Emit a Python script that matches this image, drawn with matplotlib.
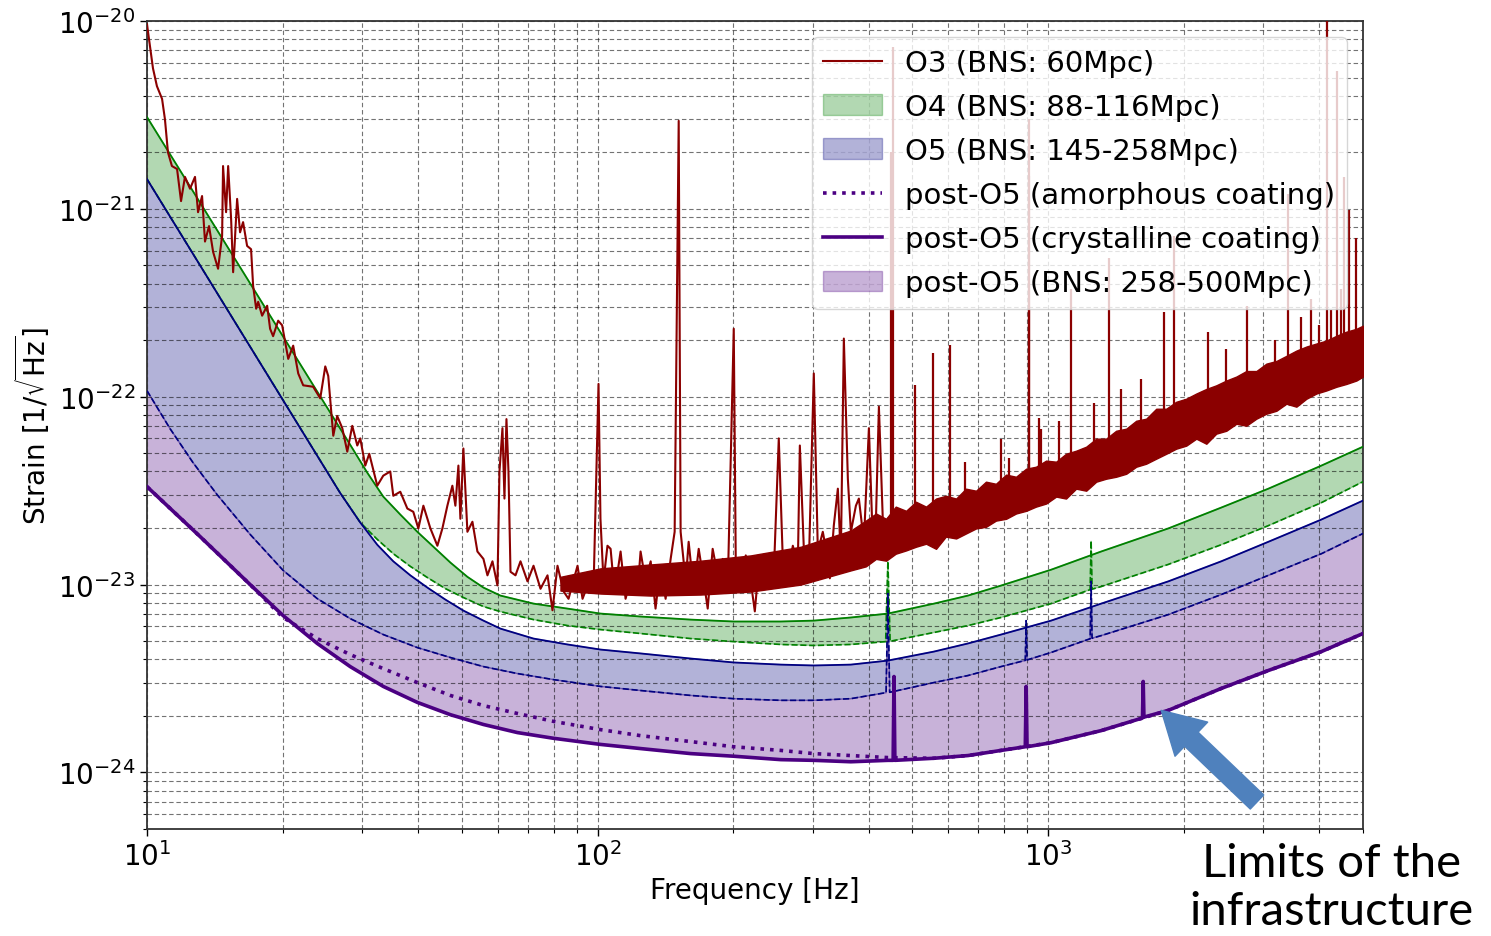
import numpy as np
import matplotlib
matplotlib.use("Agg")
import matplotlib.pyplot as plt
from matplotlib.patches import FancyArrowPatch

# ---------------- data ----------------
# O3 measured curve: noisy trace up to ~440 Hz
o3_freq = [10.00, 10.31, 10.52, 10.80, 10.96, 11.13, 11.36, 11.66, 11.90, 12.14,
           12.46, 12.78, 12.98, 13.25, 13.45, 13.73, 14.02, 14.38, 14.68, 14.75,
           14.98, 15.14, 15.37, 15.53, 15.85, 16.09, 16.34, 16.68, 17.02, 17.20,
           17.47, 17.65, 18.01, 18.48, 18.76, 19.05, 19.55, 19.95, 20.58, 21.11,
           21.66, 22.22, 23.38, 24.24, 24.87, 25.25, 25.91, 26.43, 27.13, 27.83,
           28.55, 29.29, 29.74, 30.51, 31.14, 32.44, 33.45, 34.67, 35.21, 36.49,
           37.83, 39.00, 40.02, 41.06, 42.56, 44.11, 45.25, 46.42, 47.62, 48.36,
           49.11, 49.61, 50.38, 51.42, 52.76, 54.12, 55.81, 56.97, 58.45, 59.95,
           60.58, 61.51, 62.14, 62.78, 63.43, 64.09, 65.75, 67.45, 69.91, 72.09,
           74.72, 77.44, 79.43, 81.49, 84.05, 86.22, 90.28, 92.62, 95.01, 97.97,
           100.5, 101.5, 103.1, 105.2, 106.9, 108.5, 110.8, 112.5, 115.4, 119.6,
           122.7, 124.6, 127.8, 131.2, 134.5, 138.0, 141.6, 145.3, 148.3, 151.4,
           152.9, 156.9, 159.3, 163.5, 167.7, 172.1, 175.6, 180.1, 184.8, 189.6,
           194.5, 200.6, 202.7, 207.9, 213.3, 218.8, 223.4, 228.0, 233.9, 239.9,
           246.1, 252.5, 257.7, 264.4, 271.3, 278.3, 281.2, 287.0, 294.4, 302.0,
           308.3, 316.2, 324.4, 327.8, 334.5, 341.5, 346.7, 352.1, 359.4, 365.0,
           374.5, 380.2, 390.1, 400.2, 406.4, 412.7, 421.2, 432.1, 441.0]
o3_strain = [9.6e-21, 5.6e-21, 4.5e-21, 3.85e-21, 3.0e-21, 2.0e-21, 1.69e-21, 1.63e-21, 1.10e-21, 1.48e-21,
             1.28e-21, 1.48e-21, 9.6e-22, 1.17e-21, 6.7e-22, 8.1e-22, 5.9e-22, 4.8e-22, 7.2e-22, 1.69e-21,
             9.6e-22, 1.69e-21, 8.85e-22, 4.6e-22, 1.13e-21, 7.5e-22, 8.5e-22, 6.35e-22, 6.1e-22, 3.9e-22,
             2.94e-22, 3.2e-22, 2.7e-22, 3.05e-22, 2.3e-22, 2.1e-22, 2.54e-22, 2.4e-22, 1.59e-22, 1.87e-22,
             1.33e-22, 1.15e-22, 1.13e-22, 9.8e-23, 1.45e-22, 1.29e-22, 6.2e-23, 7.9e-23, 6.8e-23, 5.1e-23,
             7.0e-23, 5.5e-23, 6.0e-23, 4.3e-23, 4.97e-23, 3.36e-23, 3.8e-23, 4.0e-23, 2.97e-23, 3.12e-23,
             2.54e-23, 2.44e-23, 1.99e-23, 2.63e-23, 1.99e-23, 1.61e-23, 1.99e-23, 2.63e-23, 3.36e-23, 2.63e-23,
             4.3e-23, 2.24e-23, 5.3e-23, 1.91e-23, 2.16e-23, 1.50e-23, 1.37e-23, 1.12e-23, 1.33e-23, 9.9e-24,
             4.0e-23, 6.8e-23, 2.87e-23, 7.6e-23, 4.0e-23, 1.17e-23, 1.12e-23, 1.33e-23, 1.04e-23, 1.26e-23,
             9.5e-24, 1.12e-23, 7.3e-24, 1.26e-23, 9.2e-24, 8.4e-24, 1.26e-23, 8.4e-24, 9.9e-24, 9.5e-24,
             1.17e-22, 2.24e-23, 1.04e-23, 1.61e-23, 1.55e-23, 1.04e-23, 1.17e-23, 1.50e-23, 8.4e-24, 1.17e-23,
             9.2e-24, 1.50e-23, 1.04e-23, 1.33e-23, 7.45e-24, 1.26e-23, 8.4e-24, 1.37e-23, 1.91e-23, 2.94e-21,
             1.91e-23, 1.04e-23, 1.69e-23, 9.2e-24, 1.55e-23, 1.04e-23, 7.45e-24, 1.55e-23, 1.12e-23, 1.37e-23,
             9.5e-24, 2.30e-22, 1.26e-23, 9.2e-24, 1.43e-23, 1.04e-23, 7.2e-24, 1.26e-23, 9.9e-24, 1.37e-23,
             1.12e-23, 6.0e-23, 1.37e-23, 1.12e-23, 1.61e-23, 1.26e-23, 5.5e-23, 1.55e-23, 1.26e-23, 1.33e-22,
             1.50e-23, 1.91e-23, 1.37e-23, 1.08e-23, 2.06e-23, 3.24e-23, 1.37e-23, 2.04e-22, 3.66e-23, 1.91e-23,
             2.63e-23, 2.87e-23, 1.69e-23, 6.8e-23, 2.33e-23, 1.37e-23, 8.85e-23, 1.50e-23, 2.24e-23]

# O3 dense noise core from ~80 Hz upward (upper / lower edge)
o3_band_freq = [82.75, 101.5, 131.2, 169.4, 218.8, 282.5, 364.9,
                394, 415, 437, 459, 484, 509, 536, 564, 593, 625,
                657, 692, 728, 766, 807, 849, 894, 940, 990, 1042,
                1096, 1154, 1215, 1279, 1345, 1416, 1491, 1569, 1651, 1738,
                1829, 1925, 2026, 2133, 2245, 2362, 2487, 2617, 2754, 2899,
                3051, 3212, 3380, 3557, 3745, 3941, 4148, 4365, 4595, 4836, 5000]
o3_band_top = [1.10e-23, 1.22e-23, 1.28e-23, 1.34e-23, 1.43e-23, 1.59e-23, 1.94e-23,
               2.19e-23, 2.39e-23, 2.24e-23, 2.60e-23, 2.47e-23, 2.76e-23, 2.60e-23, 2.87e-23, 2.97e-23, 2.87e-23,
               3.24e-23, 3.16e-23, 3.53e-23, 3.44e-23, 3.85e-23, 3.75e-23, 4.14e-23, 4.24e-23, 4.57e-23, 4.51e-23,
               4.97e-23, 5.16e-23, 5.42e-23, 5.98e-23, 5.98e-23, 6.59e-23, 6.76e-23, 7.45e-23, 7.64e-23, 8.63e-23,
               8.63e-23, 9.40e-23, 9.76e-23, 1.04e-22, 1.10e-22, 1.15e-22, 1.22e-22, 1.28e-22, 1.37e-22, 1.37e-22,
               1.50e-22, 1.55e-22, 1.65e-22, 1.76e-22, 1.85e-22, 1.92e-22, 1.99e-22, 2.11e-22, 2.22e-22, 2.30e-22,
               2.39e-22]
o3_band_bottom = [9.29e-24, 8.96e-24, 8.74e-24, 8.85e-24, 9.18e-24, 1.00e-23, 1.19e-23,
                  1.25e-23, 1.37e-23, 1.34e-23, 1.46e-23, 1.52e-23, 1.59e-23, 1.65e-23, 1.55e-23, 1.80e-23, 1.76e-23,
                  1.87e-23, 1.99e-23, 2.03e-23, 2.19e-23, 2.24e-23, 2.39e-23, 2.47e-23, 2.60e-23, 2.70e-23, 2.94e-23,
                  2.87e-23, 3.24e-23, 3.16e-23, 3.53e-23, 3.66e-23, 3.75e-23, 3.89e-23, 4.24e-23, 4.40e-23, 4.68e-23,
                  4.97e-23, 5.29e-23, 5.49e-23, 5.98e-23, 5.62e-23, 6.36e-23, 6.59e-23, 7.18e-23, 7.01e-23, 7.64e-23,
                  8.12e-23, 8.42e-23, 9.18e-23, 8.85e-23, 9.76e-23, 1.04e-22, 1.08e-22, 1.13e-22, 1.17e-22, 1.22e-22,
                  1.28e-22]

# O3 narrow lines above ~440 Hz (frequency, peak strain)
o3_line_freq = [448, 452, 506, 555, 606, 654, 786, 819, 905, 908, 955, 965, 1058, 1125, 1266, 1366, 1453,
                1609, 1810, 1905, 2268, 2487, 2768, 3195, 3415, 3651, 3841, 4002, 4169, 4256, 4387, 4479,
                4548, 4666, 4836]
o3_line_top = [2.0e-21, 7.3e-21, 1.15e-22, 1.71e-22, 1.89e-22, 4.5e-23, 5.98e-23, 4.7e-23, 1.5e-21, 3.0e-21,
               7.7e-23, 6.76e-23, 7.45e-23, 3.75e-22, 9.3e-23, 5.5e-22, 1.10e-22,
               1.25e-22, 2.83e-22, 7.2e-22, 2.22e-22, 1.80e-22, 3.05e-22, 2.01e-22, 1.20e-21, 2.65e-22, 3.3e-22,
               2.42e-22, 1.2e-20, 2.9e-22, 5.4e-21, 3.75e-22,
               1.48e-21, 9.9e-22, 7.0e-22]

# O4 (upper = solid, lower = dashed)
o4_upper_freq = [10, 25.76, 28.25, 30.83, 33.45, 36.49, 39.81, 43.22, 47.14, 51.41,
                 55.81, 60.86, 72.09, 85.77, 101.5, 124.6, 160.9, 200.6, 255.1, 302,
                 364.9, 441, 558.2, 664.1, 786.3, 1015.5, 1311.8, 1848, 2423, 3083,
                 4043, 5000]
o4_upper_strain = [3.08e-21, 7.93e-23, 5.55e-23, 3.94e-23, 2.94e-23, 2.36e-23, 1.91e-23, 1.59e-23, 1.31e-23, 1.10e-23,
                   9.64e-24, 8.74e-24, 7.92e-24, 7.45e-24, 7.01e-24, 6.76e-24, 6.51e-24, 6.36e-24, 6.36e-24, 6.43e-24,
                   6.68e-24, 7.01e-24, 7.92e-24, 8.74e-24, 9.88e-24, 1.20e-23, 1.50e-23, 1.99e-23, 2.57e-23, 3.24e-23,
                   4.30e-23, 5.42e-23]
o4_lower_freq = [10, 26.8, 29.74, 32.44, 35.21, 38.41, 41.91, 45.95, 50.38, 55.81,
                 60.86, 72.09, 85.77, 101.5, 124.6, 160.9, 200.6, 255.1, 302, 364.9,
                 436, 441, 446, 558.2, 664.1, 786.3, 1015.5, 1240, 1246, 1252,
                 1311.8, 1848, 2423, 3083, 4043, 5000]
o4_lower_strain = [1.44e-21, 3.09e-23, 2.14e-23, 1.74e-23, 1.46e-23, 1.25e-23, 1.09e-23, 9.52e-24, 8.53e-24, 7.64e-24,
                   7.18e-24, 6.51e-24, 6.05e-24, 5.76e-24, 5.49e-24, 5.16e-24, 4.97e-24, 4.80e-24, 4.74e-24, 4.80e-24,
                   4.97e-24, 1.33e-23, 4.99e-24, 5.56e-24, 6.05e-24, 6.68e-24, 7.92e-24, 9.4e-24, 1.71e-23, 9.45e-24,
                   9.76e-24, 1.28e-23, 1.63e-23, 2.06e-23, 2.73e-23, 3.53e-23]

# O5 (upper = solid, lower = dashed)
o5_upper_freq = [10, 26.8, 29.74, 32.44, 35.21, 38.41, 41.91, 45.95, 50.38, 55.81,
                 60.86, 72.09, 85.77, 101.5, 124.6, 160.9, 200.6, 255.1, 302, 364.9,
                 441, 558.2, 664.1, 786.3, 1015.5, 1311.8, 1848, 2423, 3083, 4043,
                 5000]
o5_upper_strain = [1.44e-21, 3.09e-23, 2.14e-23, 1.63e-23, 1.33e-23, 1.12e-23, 9.64e-24, 8.32e-24, 7.27e-24, 6.43e-24,
                   5.83e-24, 5.16e-24, 4.80e-24, 4.51e-24, 4.30e-24, 4.04e-24, 3.85e-24, 3.75e-24, 3.71e-24, 3.75e-24,
                   3.94e-24, 4.40e-24, 4.86e-24, 5.42e-24, 6.43e-24, 7.92e-24, 1.04e-23, 1.33e-23, 1.69e-23, 2.22e-23,
                   2.80e-23]
o5_lower_freq = [10, 11.25, 12.65, 14.31, 16.94, 20.05, 23.87, 28.25, 33.45, 39.81,
                 47.14, 55.81, 66.41, 79.85, 101.5, 124.6, 160.9, 200.6, 255.1, 302,
                 364.9, 437, 441, 445, 558.2, 664.1, 786.3, 890, 894, 898,
                 1015.5, 1240, 1246, 1252, 1311.8, 1848, 2423, 3083, 4043, 5000]
o5_lower_strain = [1.076e-22, 6.76e-23, 4.46e-23, 3.01e-23, 1.85e-23, 1.19e-23, 8.42e-24, 6.59e-24, 5.42e-24, 4.62e-24,
                   4.09e-24, 3.66e-24, 3.36e-24, 3.12e-24, 2.87e-24, 2.73e-24, 2.57e-24, 2.47e-24, 2.42e-24, 2.42e-24,
                   2.47e-24, 2.66e-24, 8.96e-24, 2.67e-24, 3.01e-24, 3.28e-24, 3.66e-24, 3.95e-24, 6.43e-24, 3.97e-24,
                   4.35e-24, 5.15e-24, 1.04e-23, 5.18e-24, 5.35e-24, 6.92e-24, 8.85e-24, 1.12e-23, 1.46e-23, 1.87e-23]

# post-O5
cryst_freq = [10, 13.12, 16.94, 20.05, 23.87, 28.25, 33.45, 39.81, 47.14, 55.81,
              66.41, 79.85, 101.5, 124.6, 160.9, 200.6, 255.1, 302, 364.9, 441,
              453, 455, 457, 558.2, 664.1, 786.3, 890, 894, 898, 1015.5,
              1311.8, 1620, 1626, 1632, 1848, 2423, 3083, 4043, 5000]
cryst_strain = [3.32e-23, 1.80e-23, 1.00e-23, 6.84e-24, 4.86e-24, 3.66e-24, 2.87e-24, 2.36e-24, 2.03e-24, 1.80e-24,
                1.63e-24, 1.52e-24, 1.41e-24, 1.34e-24, 1.26e-24, 1.22e-24, 1.17e-24, 1.16e-24, 1.14e-24, 1.16e-24,
                1.16e-24, 3.24e-24, 1.16e-24, 1.19e-24, 1.23e-24, 1.31e-24, 1.37e-24, 2.87e-24, 1.37e-24, 1.44e-24,
                1.67e-24, 1.95e-24, 3.05e-24, 1.97e-24, 2.14e-24, 2.80e-24, 3.49e-24, 4.40e-24, 5.49e-24]
amorph_freq = [10, 13.12, 16.94, 20.05, 23.87, 28.25, 33.45, 39.81, 47.14, 55.81,
               66.41, 79.85, 101.5, 124.6, 160.9, 200.6, 255.1, 302, 364.9, 441,
               558.2, 664.1, 786.3, 1015.5, 1311.8, 1848, 2423, 3083, 4043, 5000]
amorph_strain = [3.32e-23, 1.80e-23, 1.00e-23, 6.68e-24, 5.16e-24, 4.24e-24, 3.57e-24, 3.01e-24, 2.57e-24, 2.27e-24,
                 2.06e-24, 1.87e-24, 1.69e-24, 1.57e-24, 1.46e-24, 1.37e-24, 1.31e-24, 1.26e-24, 1.23e-24, 1.20e-24,
                 1.19e-24, 1.23e-24, 1.31e-24, 1.44e-24, 1.67e-24, 2.14e-24, 2.80e-24, 3.49e-24, 4.40e-24, 5.49e-24]

labels = ["O3 (BNS: 60Mpc)", "O4 (BNS: 88-116Mpc)", "O5 (BNS: 145-258Mpc)",
          "post-O5 (amorphous coating)", "post-O5 (crystalline coating)", "post-O5 (BNS: 258-500Mpc)"]
x_ticks = [10, 100, 1000]
y_ticks = [1e-24, 1e-23, 1e-22, 1e-21, 1e-20]

# ---------------- figure ----------------
W, H = 1491, 937
fig = plt.figure(figsize=(W / 100, H / 100), dpi=100)
ax = fig.add_axes([147 / W, 1 - 830 / H, (1363 - 147) / W, (830 - 22) / H])
ax.set_xscale("log")
ax.set_yscale("log")
ax.set_xlim(10, 5000)
ax.set_ylim(5e-25, 1e-20)
ax.set_xticks(x_ticks)
ax.set_yticks(y_ticks)

C_O3, C_O4, C_O5, C_P = "darkred", "green", "navy", "indigo"


def band(fu, hu, fl, hl, color, label):
    xs = np.concatenate([np.asarray(fu, float), np.asarray(fl, float)[::-1]])
    ys = np.concatenate([np.asarray(hu, float), np.asarray(hl, float)[::-1]])
    return ax.fill(xs, ys, color=color, alpha=0.3, lw=1, label=label, zorder=1)[0]


p_post = band(o5_lower_freq, o5_lower_strain, cryst_freq, cryst_strain, C_P, labels[5])
p_o5 = band(o5_upper_freq, o5_upper_strain, o5_lower_freq, o5_lower_strain, C_O5, labels[2])
p_o4 = band(o4_upper_freq, o4_upper_strain, o4_lower_freq, o4_lower_strain, C_O4, labels[1])

ax.plot(o4_lower_freq, o4_lower_strain, color=C_O4, ls="--", lw=1.2, zorder=3)
ax.plot(o4_upper_freq, o4_upper_strain, color=C_O4, lw=1.3, zorder=3)
ax.plot(o5_lower_freq, o5_lower_strain, color=C_O5, ls="--", lw=1.2, zorder=3)
ax.plot(o5_upper_freq, o5_upper_strain, color=C_O5, lw=1.3, zorder=3)
l_am, = ax.plot(amorph_freq, amorph_strain, color=C_P, ls=":", lw=2.6, zorder=3)
l_cr, = ax.plot(cryst_freq, cryst_strain, color=C_P, lw=2.6, zorder=3)

# O3
l_o3, = ax.plot(o3_freq, o3_strain, color=C_O3, lw=1.5, zorder=4)
ax.fill_between(o3_band_freq, o3_band_bottom, o3_band_top, color=C_O3, lw=1.0, zorder=4)
lf = np.log10(np.asarray(o3_band_freq, float))
base = 10 ** np.interp(np.log10(o3_line_freq), lf, np.log10(o3_band_bottom))
ax.vlines(o3_line_freq, base, o3_line_top, color=C_O3, lw=1.6, zorder=4)

ax.grid(True, which="both", color="k", alpha=0.55, lw=0.8, ls=(0, (4, 2.5)))
for g in ax.get_xgridlines() + ax.get_ygridlines():
    g.set_zorder(2)

ax.tick_params(which="major", labelsize=20, length=5, width=1)
ax.tick_params(which="minor", length=3, width=0.8)
for s in ax.spines.values():
    s.set_color("#333333")
    s.set_linewidth(1.3)

ax.set_xlabel("Frequency [Hz]", fontsize=20)
ax.set_ylabel(r"Strain [1/$\sqrt{\mathrm{Hz}}$]", fontsize=20)

leg = ax.legend([l_o3, p_o4, p_o5, l_am, l_cr, p_post], labels, loc="upper right",
                fontsize=21, framealpha=0.8, handlelength=2.0, handletextpad=0.8,
                labelspacing=0.55, borderaxespad=0.55)
leg.set_zorder(10)

# slide annotation: text and arrow pointing at the crystalline curve
fig.text(1332 / W, 1 - 888 / H, "Limits of the\ninfrastructure", ha="center", va="center",
         fontsize=34, family=["Lato", "DejaVu Sans"], color="black", linespacing=1.15)
tip = fig.transFigure.inverted().transform(ax.transData.transform((1783, 2.14e-24)))
arrow = FancyArrowPatch((1257 / W, 1 - 803 / H), tuple(tip), transform=fig.transFigure,
                        arrowstyle="simple,head_width=1.7,head_length=1.5,tail_width=0.7",
                        mutation_scale=20, color="#4f81bd", shrinkA=0, shrinkB=0, zorder=11)
fig.patches.append(arrow)

fig.savefig("out.png", dpi=100)
